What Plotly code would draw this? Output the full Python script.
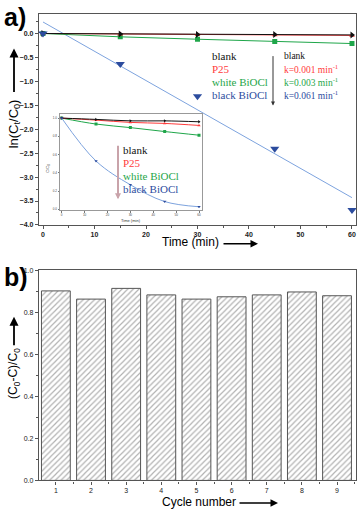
import plotly.graph_objects as go

# Datos
time_min = [0, 15, 30, 45, 60]
ln_blank = [0.0, -0.01, -0.02, -0.02, -0.03]
ln_p25 = [0.0, -0.015, -0.025, -0.03, -0.04]
ln_white = [0.0, -0.07, -0.12, -0.165, -0.21]
ln_black = [0.0, -0.64, -1.31, -2.41, -3.69]
fit_t = [0, 60]
fit_black = [0.24, -3.43]

# Inset C/C0
c_blank = [1.0, 0.986, 0.97, 0.97, 0.96]
c_p25 = [1.0, 0.978, 0.953, 0.942, 0.92]
c_white = [1.0, 0.935, 0.896, 0.853, 0.813]
c_black = [1.0, 0.53, 0.27, 0.086, 0.029]

samples = ["blank", "P25", "white BiOCl", "black BiOCl"]
rates = ["blank", "k=0.001 min<sup>-1</sup>", "k=0.003 min<sup>-1</sup>", "k=0.061 min<sup>-1</sup>"]

cycles = [1, 2, 3, 4, 5, 6, 7, 8, 9]
efficiency = [0.902, 0.863, 0.914, 0.883, 0.863, 0.874, 0.883, 0.897, 0.879]

W, H = 357, 513
BLACK = "#111111"
RED = "#ff3b3b"
GREEN = "#1fa64a"
BLUE = "#2c4c9e"
LBLUE = "#7da3de"
text_colors = [BLACK, RED, GREEN, BLUE]


def px(x):
    return x / W


def py(y):
    return 1 - y / H


fig = go.Figure()

# ---- panel a: ln(Ct/C0) ----
fig.add_trace(go.Scatter(x=fit_t, y=fit_black, mode="lines",
                         line=dict(color=LBLUE, width=1), xaxis="x", yaxis="y"))
fig.add_trace(go.Scatter(x=time_min, y=ln_white, mode="lines+markers",
                         line=dict(color=GREEN, width=1),
                         marker=dict(symbol="square", size=5, color=GREEN), xaxis="x", yaxis="y"))
fig.add_trace(go.Scatter(x=time_min, y=ln_p25, mode="lines+markers",
                         line=dict(color=RED, width=1),
                         marker=dict(symbol="triangle-up", size=5, color=RED), xaxis="x", yaxis="y"))
fig.add_trace(go.Scatter(x=time_min, y=ln_blank, mode="lines+markers",
                         line=dict(color=BLACK, width=1),
                         marker=dict(symbol="triangle-right", size=6, color=BLACK), xaxis="x", yaxis="y"))
fig.add_trace(go.Scatter(x=time_min, y=ln_black, mode="markers",
                         marker=dict(symbol="triangle-down", size=8, color=BLUE), xaxis="x", yaxis="y"))

# ---- inset: C/C0 ----
inset_series = [(c_white, GREEN, "square"), (c_p25, RED, "triangle-up"),
                (c_blank, BLACK, "triangle-right"), (c_black, LBLUE, "triangle-down")]
for vals, col, sym in inset_series:
    fig.add_trace(go.Scatter(x=time_min, y=vals, mode="lines+markers",
                             line=dict(color=col, width=1, shape="spline"),
                             marker=dict(symbol=sym, size=3,
                                         color=BLUE if col == LBLUE else col),
                             xaxis="x2", yaxis="y2"))

# ---- panel b: cycles ----
fig.add_trace(go.Bar(x=cycles, y=efficiency, width=0.82,
                     marker=dict(color="white", line=dict(color="#555555", width=1),
                                 pattern=dict(shape="/", fgcolor="#666666", bgcolor="white",
                                              size=4, solidity=0.3)),
                     xaxis="x3", yaxis="y3"))

axis_common = dict(showline=True, mirror=True, linecolor="#555555", linewidth=1.3,
                   showgrid=False, zeroline=False, ticks="outside", ticklen=3,
                   tickcolor="#555555", tickwidth=1)
bold_tick = dict(family="Liberation Sans", size=7, color="#222222", weight="bold")
thin_inset = dict(showline=True, mirror=True, linecolor="#999999", linewidth=0.8,
                  showgrid=False, zeroline=False, ticks="outside", ticklen=1.5,
                  tickcolor="#777777", tickwidth=0.6,
                  tickfont=dict(family="Liberation Sans", size=3, color="#444444"))

fig.update_layout(
    width=W, height=H,
    margin=dict(l=0, r=0, t=0, b=0),
    paper_bgcolor="white", plot_bgcolor="white",
    showlegend=False,
    xaxis=dict(axis_common, domain=[px(39), px(356)], range=[-0.78, 60.78],
               tickvals=[0, 10, 20, 30, 40, 50, 60], tickfont=bold_tick,
               minor=dict(ticks="outside", ticklen=2, dtick=5, tickcolor="#555555"),
               anchor="y"),
    yaxis=dict(axis_common, domain=[py(224), py(10)], range=[-4.0, 0.41],
               dtick=0.5, tickformat=".1f", tickfont=bold_tick,
               minor=dict(ticks="outside", ticklen=2, dtick=0.25, tickcolor="#555555"),
               anchor="x"),
    xaxis2=dict(thin_inset, domain=[px(60), px(202)], range=[-0.74, 61.3],
                dtick=10, anchor="y2"),
    yaxis2=dict(thin_inset, domain=[py(209), py(112)], range=[-0.008, 1.04],
                dtick=0.2, tickformat=".1f", anchor="x2"),
    xaxis3=dict(axis_common, domain=[px(39), px(356)], range=[0.52, 9.54],
                tickvals=cycles, tickfont=dict(family="Liberation Sans", size=7, color="#222222"),
                minor=dict(ticks="outside", ticklen=2, dtick=0.5, tick0=0.5, tickcolor="#555555"),
                anchor="y3"),
    yaxis3=dict(axis_common, domain=[py(483), py(270)], range=[0, 1.0],
                dtick=0.2, tickformat=".1f",
                tickfont=dict(family="Liberation Sans", size=7, color="#222222"),
                minor=dict(ticks="outside", ticklen=2, dtick=0.1, tickcolor="#555555"),
                anchor="x3"),
)

ann = []
# panel labels
ann.append(dict(x=px(2), y=py(13), text="<b>a)</b>", showarrow=False, xanchor="left",
                font=dict(family="Liberation Sans", size=25, color="black")))
ann.append(dict(x=px(2), y=py(277), text="<b>b)</b>", showarrow=False, xanchor="left",
                font=dict(family="Liberation Sans", size=25, color="black")))

# axis titles
ann.append(dict(x=px(14), y=py(122), text="ln(C<sub>t</sub>/C<sub>0</sub>)", textangle=-90,
                showarrow=False, font=dict(family="Liberation Sans", size=13, color="black")))
ann.append(dict(x=px(14), y=py(45), ax=0, ay=45, text="", showarrow=True, arrowhead=2,
                arrowsize=1, arrowwidth=1.8, arrowcolor="black"))
ann.append(dict(x=px(190), y=py(241), text="Time (min)", showarrow=False,
                font=dict(family="Liberation Sans", size=12, color="black")))
ann.append(dict(x=px(258), y=py(243), ax=-36, ay=0, text="", showarrow=True, arrowhead=2,
                arrowsize=1, arrowwidth=1.5, arrowcolor="black"))

ann.append(dict(x=px(14), y=py(375), text="(C<sub>0</sub>-C)/C<sub>0</sub>", textangle=-90,
                showarrow=False, font=dict(family="Liberation Sans", size=12, color="black")))
ann.append(dict(x=px(14), y=py(317), ax=0, ay=30, text="", showarrow=True, arrowhead=2,
                arrowsize=1, arrowwidth=1.8, arrowcolor="black"))
ann.append(dict(x=px(199), y=py(505), text="Cycle number", showarrow=False,
                font=dict(family="Liberation Sans", size=12, color="black")))
ann.append(dict(x=px(278), y=py(506), ax=-40, ay=0, text="", showarrow=True, arrowhead=2,
                arrowsize=1, arrowwidth=1.5, arrowcolor="black"))

# main legend block
for i, (s, r) in enumerate(zip(samples, rates)):
    yy = 53 + i * 13
    ann.append(dict(x=px(210), y=py(yy), text=s, showarrow=False, xanchor="left",
                    font=dict(family="Liberation Serif", size=11, color=text_colors[i])))
    ann.append(dict(x=px(282), y=py(yy), text=r, showarrow=False, xanchor="left",
                    font=dict(family="Liberation Serif", size=9.5, color=text_colors[i])))
ann.append(dict(x=px(273), y=py(103), ax=0, ay=-51, text="", showarrow=True, arrowhead=2,
                arrowsize=0.8, arrowwidth=1, arrowcolor="#333333"))

# inset legend block
for i, s in enumerate(samples):
    yy = 148 + i * 13.3
    ann.append(dict(x=px(121), y=py(yy), text=s, showarrow=False, xanchor="left",
                    font=dict(family="Liberation Serif", size=11, color=text_colors[i])))
ann.append(dict(x=px(118), y=py(198), ax=0, ay=-55, text="", showarrow=True, arrowhead=2,
                arrowsize=0.6, arrowwidth=2, arrowcolor="#c9a3aa"))

# inset axis titles
ann.append(dict(x=px(131), y=py(219), text="Time (min)", showarrow=False,
                font=dict(family="Liberation Sans", size=4, color="#333333")))
ann.append(dict(x=px(48), y=py(167), text="C/C<sub>0</sub>", textangle=-90, showarrow=False,
                font=dict(family="Liberation Sans", size=4, color="#333333")))

for a in ann:
    a.setdefault("xref", "paper")
    a.setdefault("yref", "paper")
    a.setdefault("xanchor", "center")
    a.setdefault("yanchor", "middle")
fig.update_layout(annotations=ann)

# quitar el margen del body para que la figura quede en (0, 0)
fig.write_html("out.html", config={"displayModeBar": False},
               post_script="document.body.style.margin='0';document.body.style.overflow='hidden';")
